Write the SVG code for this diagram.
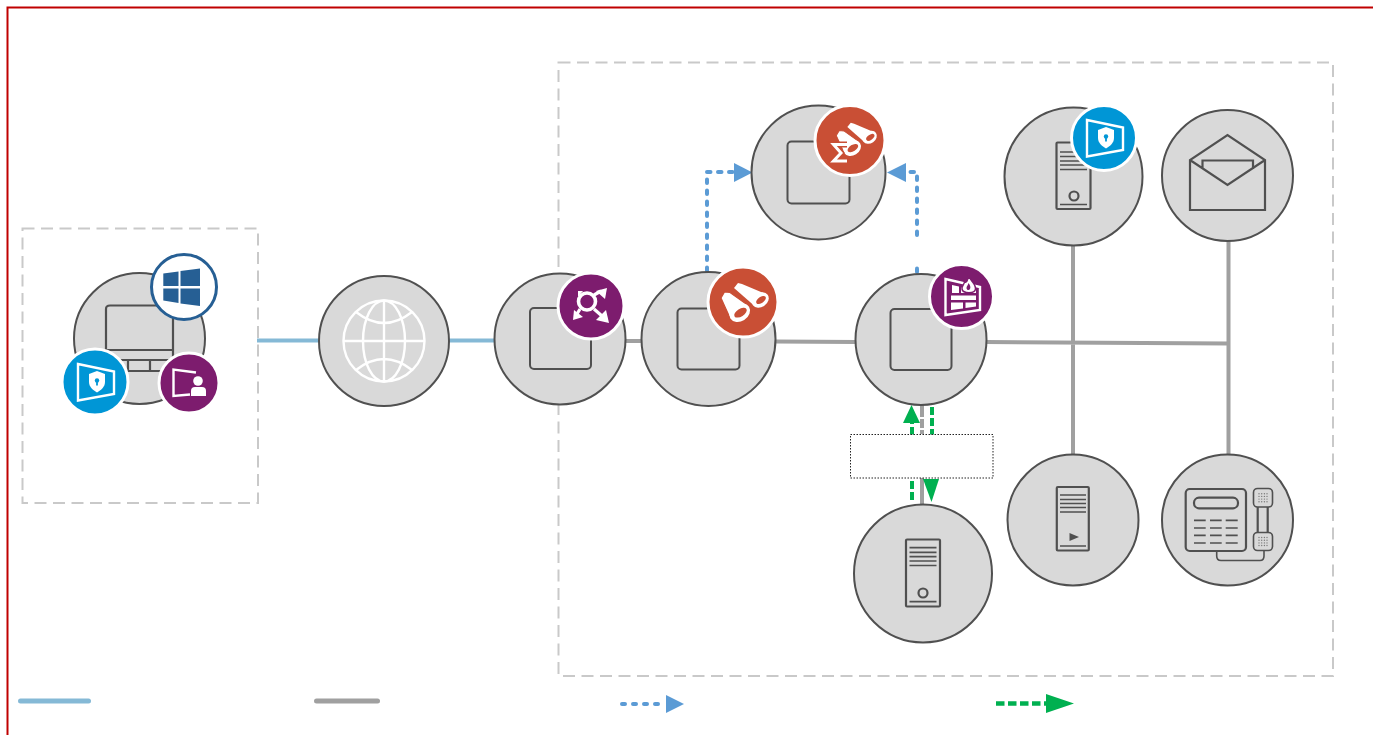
<svg xmlns="http://www.w3.org/2000/svg" xmlns:xlink="http://www.w3.org/1999/xlink" width="1373" height="735" viewBox="0 0 1373 735">
<style>
.n{fill:#d9d9d9;stroke:#505050;stroke-width:2}
.sq{fill:none;stroke:#505050;stroke-width:2}
.ic{fill:none;stroke:#505050;stroke-width:2.2}
.ln{fill:none;stroke:#505050;stroke-width:1.7}
.th{fill:none;stroke:#505050;stroke-width:1.6}
.zone{fill:none;stroke:#c9c9c9;stroke-width:2;stroke-dasharray:12 6.500}
.cb{fill:none;stroke:#85b9d6;stroke-width:4}
.cg{fill:none;stroke:#a0a0a0;stroke-width:4}
.db{fill:none;stroke:#5b9bd5;stroke-width:4;stroke-dasharray:3.500 7.500;stroke-linecap:round}
.dg{fill:none;stroke:#00b050;stroke-width:4;stroke-dasharray:8 3}
.w{fill:#fff}
.wl{fill:none;stroke:#fff;stroke-width:2.4}
.ring{stroke:#fff;stroke-width:3}
</style>
<defs>
<g id="shield">
<polygon points="-17,-18 19,-10.5 19,12 -17,18.5" fill="none" stroke="#fff" stroke-width="2.4"/>
<path class="w" d="M2,-11 L10,-8 V0 C10,5 6,8 2,10.5 C-2,8 -6,5 -6,0 V-8 Z"/>
<circle cx="2" cy="-1.5" r="2.200" fill="#0096d6"/><rect x="1.100" y="-1" width="1.800" height="4.500" fill="#0096d6"/>
</g>
<g id="bino">
<path class="w" d="M-9,-14L-5,-19L-1,-18L24,-7.500L11,3.500Z"/>
<ellipse cx="17.300" cy="-2" rx="9" ry="7" transform="rotate(-35 17.300 -2)" class="w"/>
<ellipse cx="18" cy="-2" rx="5.500" ry="3" transform="rotate(-35 18 -2)" fill="#c94f35"/>
<path class="w" d="M-22,-4L-18.500,-10L-13,-9.500L6,4L-12.500,17Z" stroke="#c94f35" stroke-width="1.200"/>
<ellipse cx="-3.300" cy="10.700" rx="11" ry="8.500" transform="rotate(-32 -3.300 10.700)" class="w"/>
<ellipse cx="-2.500" cy="10.700" rx="7" ry="3.800" transform="rotate(-32 -2.500 10.700)" fill="#c94f35"/>
</g>
<g id="dots" fill="#7a7a7a">
<circle cx="-4" cy="-4" r=".7"/><circle cx="-1.3" cy="-4" r=".7"/><circle cx="1.4" cy="-4" r=".7"/><circle cx="4" cy="-4" r=".7"/>
<circle cx="-4" cy="-1.3" r=".7"/><circle cx="-1.3" cy="-1.3" r=".7"/><circle cx="1.4" cy="-1.3" r=".7"/><circle cx="4" cy="-1.3" r=".7"/>
<circle cx="-4" cy="1.4" r=".7"/><circle cx="-1.3" cy="1.4" r=".7"/><circle cx="1.4" cy="1.4" r=".7"/><circle cx="4" cy="1.4" r=".7"/>
<circle cx="-4" cy="4" r=".7"/><circle cx="-1.3" cy="4" r=".7"/><circle cx="1.4" cy="4" r=".7"/><circle cx="4" cy="4" r=".7"/>
</g>
</defs>
<rect width="1373" height="735" fill="#fff"/>
<path d="M7.500 735V7.500H1373" fill="none" stroke="#c00000" stroke-width="2"/>
<rect class="zone" x="22.500" y="228.500" width="235.500" height="274.500"/>
<rect class="zone" x="558.500" y="62.500" width="774.500" height="613.500"/>

<g id="connectors">
<path class="cb" d="M257 340.500H320M449 340.500H496"/>
<path class="cg" d="M625 341H643M775 341.500L856 342M986 342L1228 343.500M1073 245V455M1228.500 241V455M922 478V505"/>
<path class="cg" d="M922 404V434" stroke-dasharray="13 2 9 2 6"/>
<path class="db" d="M707 271V172H735"/>
<polygon points="734,163 752.500,172.500 734,182" fill="#5b9bd5"/>
<path class="db" d="M917 272V266"/>
<path class="db" d="M917 235V172H906"/>
<polygon points="906,163 887,172.500 906,182" fill="#5b9bd5"/>
<path class="dg" d="M932 407V435"/>
<path class="dg" d="M912 500V481"/>
<path class="dg" d="M912 435V421"/>
<polygon points="903,423 911.500,405 920,423" fill="#00b050"/>
<polygon points="923,479 939,479 931.500,502" fill="#00b050"/>
<rect x="850.500" y="434.500" width="142.500" height="43.500" fill="#fff" stroke="#222" stroke-width="1" stroke-dasharray="1.500 1.500"/>
<path d="M20.500 701H88.500" fill="none" stroke="#85b9d6" stroke-width="5" stroke-linecap="round"/>
<path d="M316.500 701H377.500" fill="none" stroke="#a0a0a0" stroke-width="5" stroke-linecap="round"/>
<path d="M622 704H664" fill="none" stroke="#5b9bd5" stroke-width="4" stroke-dasharray="3 8" stroke-linecap="round"/>
<polygon points="666,695 684,704 666,713" fill="#5b9bd5"/>
<path d="M996 703.500H1046" fill="none" stroke="#00b050" stroke-width="4.500" stroke-dasharray="8.500 3.500"/>
<polygon points="1046,694 1074,703.500 1046,713" fill="#00b050"/>
</g>

<g id="node-workstation">
<circle class="n" cx="139.500" cy="338.500" r="65.500"/>
<path class="ic" d="M106 350V309Q106 305.500 110 305.500H169Q173 305.500 173 309V350H106ZM106 350V356Q106 360 110 360H169Q173 360 173 356V350M128 360V371M150 360V371M120 371H165"/>
<circle cx="184" cy="287" r="32.500" fill="#fff" stroke="#265f94" stroke-width="3"/>
<path fill="#265f94" d="M163.300 273.500L178.500 271.500V286H163.300ZM180.500 271L200 268.500V286H180.500ZM163.300 288.500H178.500V303L163.300 300.500ZM180.500 288.500H200V306L180.500 303.500Z"/>
<circle class="ring" cx="95" cy="382" r="33" fill="#0096d6"/>
<use xlink:href="#shield" href="#shield" x="95" y="382"/>
<circle class="ring" cx="189" cy="383" r="30" fill="#7d1c6e"/>
<path class="wl" d="M196 372.500L173.500 369.500V396L190 394.500" stroke-width="2"/>
<circle class="w" cx="198" cy="381" r="4.800"/>
<path class="w" d="M191 396V391Q191 387 195 387H202Q206 387 206 391V396Z"/>
</g>

<g id="node-internet">
<circle class="n" cx="384" cy="341" r="65"/>
<circle class="wl" cx="384" cy="341" r="40.500" stroke-width="3"/>
<ellipse class="wl" cx="384" cy="341" rx="21" ry="40.500"/>
<path class="wl" d="M384 300V381M344 341H424M356 312Q384 334 412 312M356 370Q384 348 412 370"/>
</g>

<g id="node-gateway">
<circle class="n" cx="560" cy="339" r="65.500"/>
<rect class="sq" x="530" y="308" width="61" height="61" rx="4"/>
<circle class="ring" cx="591" cy="306" r="33" fill="#7d1c6e"/>
<circle cx="587" cy="301.500" r="8.500" fill="none" stroke="#fff" stroke-width="3.600"/>
<path d="M594 295L601 291M580 309L577 314M594 309L602 316" stroke="#fff" stroke-width="3.200" fill="none"/>
<polygon class="w" points="607,288 605,299 596,291"/>
<polygon class="w" points="573,320 574,310 583,317"/>
<polygon class="w" points="609,323 596,320 606,310"/>
<polygon class="w" points="578,291 583,291 578,297"/>
</g>

<g id="node-monitor">
<circle class="n" cx="708.500" cy="339" r="67"/>
<rect class="sq" x="677.500" y="308.500" width="62" height="61" rx="4"/>
<circle class="ring" cx="743" cy="302" r="35" fill="#c94f35"/>
<use xlink:href="#bino" href="#bino" x="743" y="302"/>
</g>

<g id="node-analytics">
<circle class="n" cx="818.500" cy="172.500" r="67"/>
<rect class="sq" x="787.500" y="141.500" width="62" height="62" rx="4"/>
<circle class="ring" cx="850" cy="140.500" r="35" fill="#c94f35"/>
<g transform="translate(855 139) scale(.85)"><use xlink:href="#bino" href="#bino"/></g>
<path d="M847 144.500H833.500L841 153L833.500 161H847" fill="none" stroke="#c94f35" stroke-width="6"/>
<path d="M847 144.500H833.500L841 153L833.500 161H847" fill="none" stroke="#fff" stroke-width="3"/>
</g>

<g id="node-firewall">
<circle class="n" cx="921" cy="339.500" r="65.500"/>
<rect class="sq" x="890.500" y="309" width="61" height="61" rx="4"/>
<circle class="ring" cx="961.500" cy="296.500" r="32" fill="#7d1c6e"/>
<polygon points="945.500,279 980,287 980,310 945.500,315" fill="none" stroke="#fff" stroke-width="2.400"/>
<path class="w" d="M952 285L959 286.500V293H952ZM961 287.500L976 290V293H961ZM951 295.500H976V300H951ZM951 302.500H963V308.500L951 310ZM965.500 302.500H976V306.500L965.500 308Z"/>
<path class="w" d="M968.500 275C969 280 976 283 975.500 289C975 294 963 294 962 289C961.500 286 964 285 964.500 282C966 283 968.500 280 968.500 275Z" stroke="#7d1c6e" stroke-width="1.500"/>
<path d="M968.500 283C970 285 971 287 970 289C969 291 966.500 290 966.500 288C966.500 286 968 285.500 968.500 283Z" fill="#7d1c6e"/>
</g>

<g id="node-protected-server">
<circle class="n" cx="1073.500" cy="176.500" r="69"/>
<rect class="ic" x="1056.500" y="142.500" width="34" height="66.500" rx="1"/>
<path class="ln" d="M1060 152H1087M1060 156.500H1087M1060 161H1087M1060 165H1087M1060 169.500H1087M1060 204.500H1087"/>
<circle class="ic" cx="1074" cy="196" r="4.500"/>
<circle class="ring" cx="1104" cy="138" r="32.500" fill="#0096d6"/>
<use xlink:href="#shield" href="#shield" x="1104" y="138"/>
</g>

<g id="node-mail">
<circle class="n" cx="1227.500" cy="175.500" r="65.500"/>
<path class="ic" d="M1190 160V210H1265V160L1227.500 135ZM1190 160L1227.500 185L1265 160M1202.500 169V160.500H1253V169" stroke-width="2.400"/>
</g>

<g id="node-media-server">
<circle class="n" cx="1073" cy="520" r="65.500"/>
<rect class="ic" x="1056.800" y="487" width="32" height="63.500" rx="1"/>
<path class="ln" d="M1060 495H1086M1060 499.500H1086M1060 503.500H1086M1060 507.500H1086M1060 512H1086M1060 546H1086"/>
<polygon points="1069.500,533 1079,537 1069.500,541" fill="#505050"/>
</g>

<g id="node-phone">
<circle class="n" cx="1227.500" cy="520" r="65.500"/>
<rect class="ic" x="1185.700" y="489" width="60.300" height="62" rx="4"/>
<rect class="ic" x="1194" y="497.700" width="44" height="10.600" rx="5"/>
<path class="ln" d="M1194 520.300H1205.700M1210 520.300H1221.700M1225.700 520.300H1237.700M1194 528H1205.700M1210 528H1221.700M1225.700 528H1237.700M1194 535.300H1205.700M1210 535.300H1221.700M1225.700 535.300H1237.700M1194 543H1205.700M1210 543H1221.700M1225.700 543H1237.700"/>
<rect class="th" x="1253.500" y="488.500" width="19" height="18.500" rx="4"/>
<rect class="th" x="1253.500" y="532.500" width="19" height="18" rx="4"/>
<use xlink:href="#dots" href="#dots" x="1263" y="497.700"/>
<use xlink:href="#dots" href="#dots" x="1263" y="541.500"/>
<path class="ic" d="M1257.700 507V532.500M1267.700 507V532.500"/>
<path class="th" d="M1216.700 551V556Q1216.700 560.500 1221 560.500H1260Q1264 560.500 1264 556V551"/>
</g>

<g id="node-server">
<circle class="n" cx="923" cy="573.500" r="69"/>
<rect class="ic" x="906" y="539.500" width="34" height="67" rx="1"/>
<path class="ln" d="M909.500 547.700H936.500M909.500 552.300H936.500M909.500 556.700H936.500M909.500 561H936.500M909.500 565.500H936.500M909.500 601.700H936.500"/>
<circle class="ic" cx="923" cy="593" r="4.500"/>
</g>
</svg>
